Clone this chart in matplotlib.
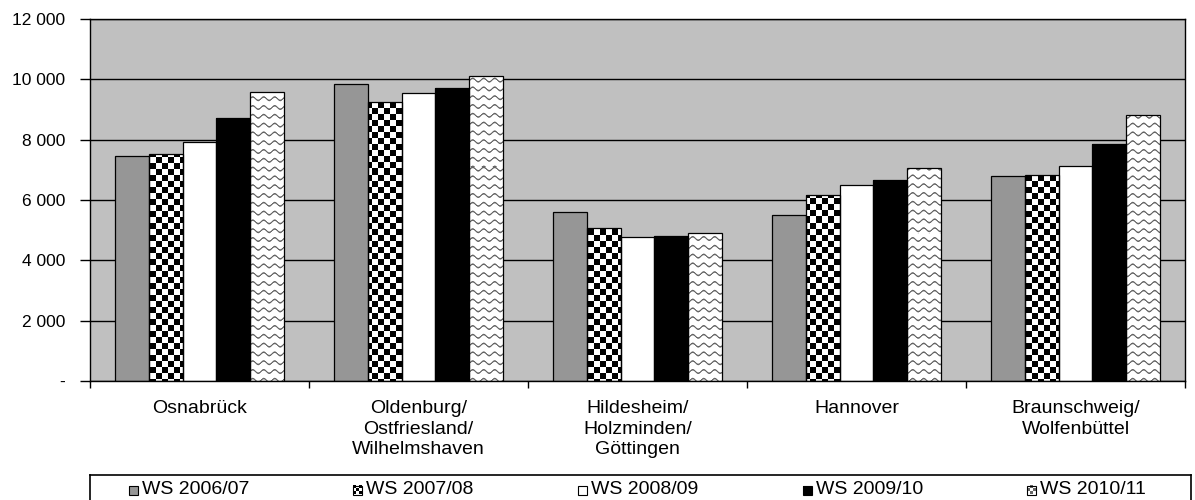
import numpy as np
import matplotlib
matplotlib.use("Agg")
import matplotlib.pyplot as plt
from matplotlib.ticker import FuncFormatter, FixedLocator

plt.rcParams['font.family'] = ['Liberation Sans', 'DejaVu Sans']

categories = ["Osnabrück",
              "Oldenburg/\nOstfriesland/\nWilhelmshaven",
              "Hildesheim/\nHolzminden/\nGöttingen",
              "Hannover",
              "Braunschweig/\nWolfenbüttel"]
series_labels = ["WS 2006/07", "WS 2007/08", "WS 2008/09", "WS 2009/10", "WS 2010/11"]
ws_2006_07 = [7470, 9850, 5610, 5500, 6805]
ws_2007_08 = [7510, 9260, 5060, 6180, 6815]
ws_2008_09 = [7910, 9555, 4785, 6510, 7140]
ws_2009_10 = [8705, 9700, 4815, 6660, 7855]
ws_2010_11 = [9565, 10120, 4915, 7070, 8810]
series = [ws_2006_07, ws_2007_08, ws_2008_09, ws_2009_10, ws_2010_11]
y_ticks = [0, 2000, 4000, 6000, 8000, 10000, 12000]

W, H = 1195, 500
fig = plt.figure(figsize=(W / 100, H / 100), dpi=100)
ax_l, ax_r, ax_t, ax_b = 90, 1185, 19, 381
ax = fig.add_axes([ax_l / W, (H - ax_b) / H, (ax_r - ax_l) / W, (ax_b - ax_t) / H])
ax.set_facecolor('#C0C0C0')
ax.set_xlim(-0.5, 4.5)
ax.set_ylim(0, 12000)

npx_w, npx_h = ax_r - ax_l, ax_b - ax_t

# pattern images in pixel space
jj, ii = np.meshgrid(np.arange(npx_w), np.arange(npx_h))
sq = 6
checker = (((jj // sq) + (ii // sq)) % 2).astype(float)  # 0 black, 1 white

period = 11.0
spacing = 8.8
amp = 1.7
tri = np.sin(2 * np.pi * jj / period)
off = (ii - amp * tri) % spacing
dist = np.minimum(off, spacing - off)
zig = 1.0 - 0.6 * np.clip(1.3 - dist, 0, 1)

colors = ['#969696', 'white', 'white', 'black', 'white']
patterns = [None, checker, None, None, zig]

x = np.arange(len(categories))
bw = 0.155
for k, vals in enumerate(series):
    pos = x + (k - 2) * bw
    bars = ax.bar(pos, vals, width=bw, color=colors[k], edgecolor='none', zorder=2)
    if patterns[k] is not None:
        for b in bars:
            im = ax.imshow(patterns[k], extent=(-0.5, 4.5, 0, 12000), origin='upper',
                           cmap='gray', vmin=0, vmax=1, aspect='auto',
                           interpolation='nearest', zorder=2.1)
            im.set_clip_path(b)
    ax.bar(pos, vals, width=bw, fill=False, edgecolor='black', linewidth=0.9, zorder=2.2)

ax.set_xlim(-0.5, 4.5)
ax.set_ylim(0, 12000)

ax.yaxis.set_major_locator(FixedLocator(y_ticks))
ax.yaxis.set_major_formatter(FuncFormatter(
    lambda v, p: '-' if v == 0 else f"{int(v):,}".replace(',', ' ')))
ax.grid(axis='y', color='black', linewidth=1.0, zorder=1)
ax.set_axisbelow(True)
ax.tick_params(axis='y', length=7, width=1, pad=11, labelsize=12.5, direction='out')

ax.set_xticks(np.arange(-0.5, 5.0, 1.0))
ax.set_xticklabels([])
ax.tick_params(axis='x', which='major', length=5, width=1, direction='out')
ax.set_xticks(x, minor=True)
ax.set_xticklabels(categories, minor=True, fontsize=14, linespacing=1.27)
ax.tick_params(axis='x', which='minor', length=0, pad=14)
for lab in ax.get_xticklabels(minor=True):
    lab.set_verticalalignment('top')
    lab.set_horizontalalignment('center')
for s in ax.spines.values():
    s.set_color('black')
    s.set_linewidth(1.0)

# legend box
lg_l, lg_r, lg_t = 90, 1191, 475
lax = fig.add_axes([lg_l / W, 0, (lg_r - lg_l) / W, (H - lg_t) / H])
lax.set_xlim(0, lg_r - lg_l)
lax.set_ylim(0, H - lg_t)
lax.set_xticks([])
lax.set_yticks([])
for s in lax.spines.values():
    s.set_color('black')
    s.set_linewidth(1.2)
lax.spines['bottom'].set_visible(False)

sq_x = [39, 263, 488, 713, 937]
sq_s = 9
sq_y = 5.5
small_checker = np.array([[0, 1, 0], [1, 0, 1], [0, 1, 0]], float)
small_zig = np.array([[1, 0.4, 1], [0.4, 1, 0.4], [1, 0.4, 1]], float)
for k, lab in enumerate(series_labels):
    x0 = sq_x[k]
    lax.add_patch(plt.Rectangle((x0, sq_y), sq_s, sq_s, facecolor=colors[k], edgecolor='none'))
    if k == 1:
        lax.imshow(small_checker, extent=(x0, x0 + sq_s, sq_y, sq_y + sq_s), cmap='gray',
                   vmin=0, vmax=1, aspect='auto', interpolation='nearest', zorder=2)
    if k == 4:
        lax.imshow(small_zig, extent=(x0, x0 + sq_s, sq_y, sq_y + sq_s), cmap='gray',
                   vmin=0, vmax=1, aspect='auto', interpolation='nearest', zorder=2)
    lax.add_patch(plt.Rectangle((x0, sq_y), sq_s, sq_s, fill=False, edgecolor='black',
                                linewidth=0.8, zorder=3))
    lax.text(x0 + sq_s + 4, sq_y + sq_s / 2, lab, fontsize=14, va='center', ha='left')
lax.set_xlim(0, lg_r - lg_l)
lax.set_ylim(0, H - lg_t)

fig.savefig('out.png', dpi=100)
